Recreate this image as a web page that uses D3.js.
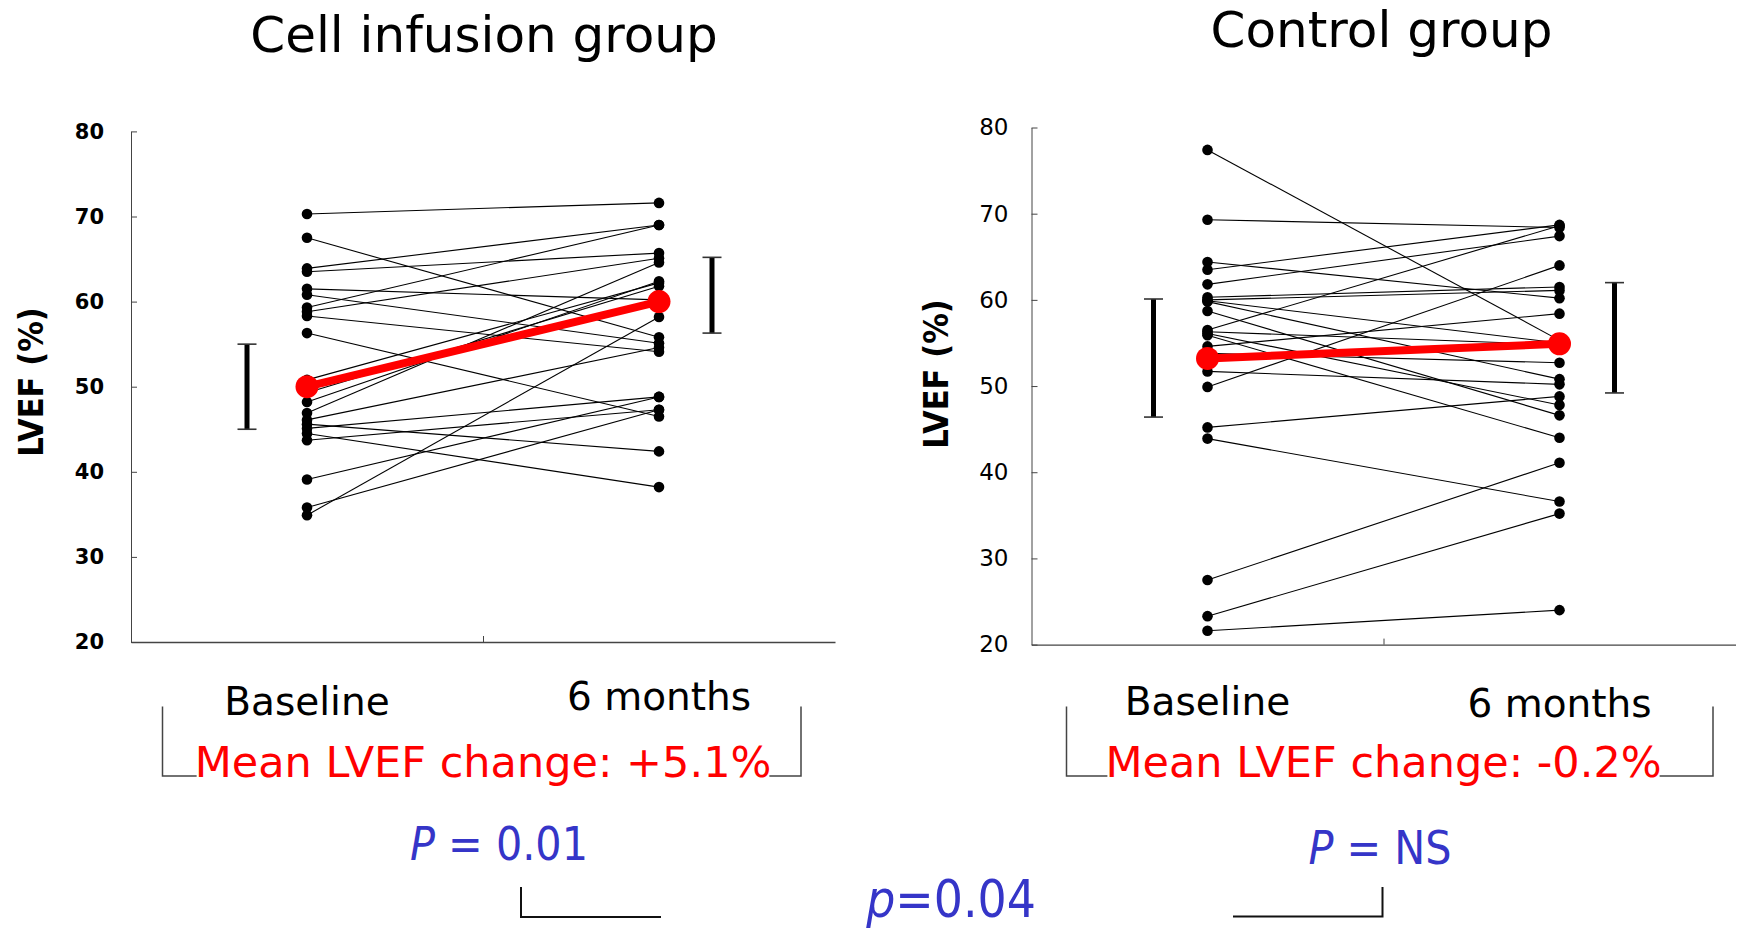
<!DOCTYPE html>
<html>
<head>
<meta charset="utf-8">
<title>LVEF - cell infusion vs control</title>
<script src="https://d3js.org/d3.v7.min.js"></script>
<style>
  body { margin: 0; background: #fff; }
  svg { display: block; }
</style>
</head>
<body>
<svg id="chart" width="1738" height="928"></svg>
<script>
// ---- data ----
const categories = ["Baseline", "6 months"];
const yTicks = [20, 30, 40, 50, 60, 70, 80];

// cell infusion group, one value per patient
const cellBaseline  = [70.3, 67.5, 63.9, 63.5, 61.5, 60.8, 59.3, 58.8, 58.3, 56.3, 50.8, 49.3, 48.2, 46.9, 46.1, 45.6, 45.1, 44.5, 43.7, 39.1, 35.8, 34.9];
const cellSixMonths = [71.6, 55.8, 69.0, 65.7, 60.2, 55.1, 69.0, 65.1, 54.1, 46.5, 62.2, 61.8, 62.4, 64.6, 54.6, 42.4, 48.8, 38.2, 47.3, 48.8, 47.3, 58.2];

// control group
const controlBaseline  = [77.4, 69.3, 64.4, 63.5, 61.8, 60.3, 60.0, 59.9, 59.8, 58.7, 56.5, 56.3, 56.1, 55.9, 54.6, 53.8, 51.7, 49.9, 45.2, 43.9, 27.5, 23.3, 21.6];
const controlSixMonths = [55.3, 68.4, 60.2, 68.7, 67.4, 61.5, 61.1, 55.0, 50.8, 46.6, 68.6, 54.8, 47.8, 44.0, 58.4, 52.7, 50.2, 64.0, 48.8, 36.6, 41.1, 35.2, 24.0];

// group means and error bars (low / high) at baseline and 6 months
const cellMean = [50.0, 60.0];
const cellErrLow = [45.0, 56.3];
const cellErrHigh = [55.0, 65.2];
const controlMean = [53.2, 54.9];
const controlErrLow = [46.4, 49.2];
const controlErrHigh = [60.1, 62.0];

const groupTitles = ["Cell infusion group", "Control group"];
const changeLabels = ["Mean LVEF change: +5.1%", "Mean LVEF change: -0.2%"];
const pValues = ["0.01", "NS"];
const betweenP = "0.04";

// ---- layout ----
const svg = d3.select("#chart");
const RED = "#ff0000", BLUE = "#3535c8";
const condensed = "'DejaVu Sans Condensed', 'DejaVu Sans', sans-serif";
const plain = "'DejaVu Sans', sans-serif";

const panels = [
  { title: groupTitles[0], titleX: 484, titleY: 52, x0: 131, x1: 835, yTop: 131.4, yBot: 642,
    tickFont: 21, tickWeight: "bold", tickPad: 27, labelX: 43, labelY: 382,
    base: cellBaseline, six: cellSixMonths, mean: cellMean, lo: cellErrLow, hi: cellErrHigh,
    barOff: [-60, 53], catY: [715, 710], change: changeLabels[0], brX: [162.5, 801],
    p: pValues[0], pX: 499, pY: 860 },
  { title: groupTitles[1], titleX: 1381.5, titleY: 47, x0: 1031.5, x1: 1735.5, yTop: 127.5, yBot: 644.6,
    tickFont: 23, tickWeight: "normal", tickPad: 23, labelX: 948, labelY: 374,
    base: controlBaseline, six: controlSixMonths, mean: controlMean, lo: controlErrLow, hi: controlErrHigh,
    barOff: [-54, 55], catY: [715, 717], change: changeLabels[1], brX: [1066.5, 1713],
    p: pValues[1], pX: 1380, pY: 864 }
];

panels.forEach(function(p) {
  const g = svg.append("g");
  const y = d3.scaleLinear().domain([20, 80]).range([p.yBot, p.yTop]);
  const x = d3.scalePoint().domain(categories).range([p.x0, p.x1]).padding(0.5);
  const xLin = d3.scaleLinear().domain([0, 1]).range([p.x0, p.x1]);

  // title
  g.append("text")
    .attr("x", p.titleX).attr("y", p.titleY)
    .attr("text-anchor", "middle")
    .style("font-family", plain).style("font-size", "50px")
    .text(p.title);

  // y axis, ticks pointing inward
  const yAxis = g.append("g")
    .attr("transform", "translate(" + p.x0 + ",0)")
    .call(d3.axisLeft(y).tickValues(yTicks).tickSizeInner(-6).tickSizeOuter(0).tickPadding(p.tickPad));
  yAxis.select(".domain").attr("stroke", "#444");
  yAxis.selectAll(".tick line").attr("stroke", "#444");
  yAxis.selectAll(".tick text")
    .style("font-family", plain)
    .style("font-size", p.tickFont + "px")
    .style("font-weight", p.tickWeight)
    .attr("fill", "#000");

  // x axis with single middle tick
  const xAxis = g.append("g")
    .attr("transform", "translate(0," + p.yBot + ")")
    .call(d3.axisBottom(xLin).tickValues([0.5]).tickFormat("").tickSizeInner(-6).tickSizeOuter(0));
  xAxis.select(".domain").attr("stroke", "#444").attr("stroke-width", 1.4);
  xAxis.selectAll(".tick line").attr("stroke", "#444");

  // y label
  g.append("text")
    .attr("transform", "translate(" + p.labelX + "," + p.labelY + ") rotate(-90)")
    .attr("text-anchor", "middle")
    .style("font-family", condensed).style("font-size", "34px").style("font-weight", "bold")
    .text("LVEF (%)");

  // patient lines
  const pairs = p.base.map((b, i) => [b, p.six[i]]);
  g.selectAll(".pline").data(pairs).enter().append("line")
    .attr("x1", x(categories[0])).attr("x2", x(categories[1]))
    .attr("y1", d => y(d[0])).attr("y2", d => y(d[1]))
    .attr("stroke", "#000").attr("stroke-width", 1.1);

  g.selectAll(".dotB").data(p.base).enter().append("circle")
    .attr("cx", x(categories[0])).attr("cy", d => y(d)).attr("r", 5.3).attr("fill", "#000");
  g.selectAll(".dotS").data(p.six).enter().append("circle")
    .attr("cx", x(categories[1])).attr("cy", d => y(d)).attr("r", 5.3).attr("fill", "#000");

  // mean line
  g.append("line")
    .attr("x1", x(categories[0])).attr("x2", x(categories[1]))
    .attr("y1", y(p.mean[0])).attr("y2", y(p.mean[1]))
    .attr("stroke", RED).attr("stroke-width", 8);
  g.selectAll(".mdot").data(p.mean).enter().append("circle")
    .attr("cx", (d, i) => x(categories[i])).attr("cy", d => y(d)).attr("r", 11.5).attr("fill", RED);

  // error bars
  categories.forEach(function(c, i) {
    const bx = x(c) + p.barOff[i];
    g.append("line").attr("x1", bx).attr("x2", bx)
      .attr("y1", y(p.lo[i])).attr("y2", y(p.hi[i]))
      .attr("stroke", "#000").attr("stroke-width", 5);
    [p.lo[i], p.hi[i]].forEach(function(v) {
      g.append("line").attr("x1", bx - 9.5).attr("x2", bx + 9.5)
        .attr("y1", y(v)).attr("y2", y(v))
        .attr("stroke", "#333").attr("stroke-width", 1.6);
    });
  });

  // category labels
  categories.forEach(function(c, i) {
    g.append("text")
      .attr("x", x(c)).attr("y", p.catY[i])
      .attr("text-anchor", "middle")
      .style("font-family", plain).style("font-size", "39px")
      .text(c);
  });

  // bracket with change label
  g.append("path")
    .attr("d", "M" + p.brX[0] + ",706.5V776H" + p.brX[1] + "V706.5")
    .attr("fill", "none").attr("stroke", "#444").attr("stroke-width", 1.5);
  const ct = g.append("text")
    .attr("x", xLin(0.5)).attr("y", 777)
    .attr("text-anchor", "middle")
    .style("font-family", plain).style("font-size", "43px")
    .attr("fill", RED)
    .text(p.change);
  const bb = ct.node().getBBox();
  g.insert("rect", function() { return ct.node(); })
    .attr("x", bb.x + 2).attr("y", bb.y).attr("width", bb.width - 4).attr("height", bb.height)
    .attr("fill", "#fff");

  // within-group p
  const pt = g.append("text")
    .attr("x", p.pX).attr("y", p.pY)
    .attr("text-anchor", "middle")
    .style("font-family", condensed).style("font-size", "46px")
    .attr("fill", BLUE);
  pt.append("tspan").style("font-style", "italic").text("P");
  pt.append("tspan").text(" = " + p.p);
});

// between-group comparison
svg.append("path").attr("d", "M521,887V917H661")
  .attr("fill", "none").attr("stroke", "#111").attr("stroke-width", 2);
svg.append("path").attr("d", "M1233,916.5H1382.5V887")
  .attr("fill", "none").attr("stroke", "#111").attr("stroke-width", 2);
const bt = svg.append("text")
  .attr("x", 951).attr("y", 917)
  .attr("text-anchor", "middle")
  .style("font-family", condensed).style("font-size", "51px")
  .attr("fill", BLUE);
bt.append("tspan").style("font-style", "italic").text("p");
bt.append("tspan").text("=" + betweenP);
</script>
</body>
</html>
